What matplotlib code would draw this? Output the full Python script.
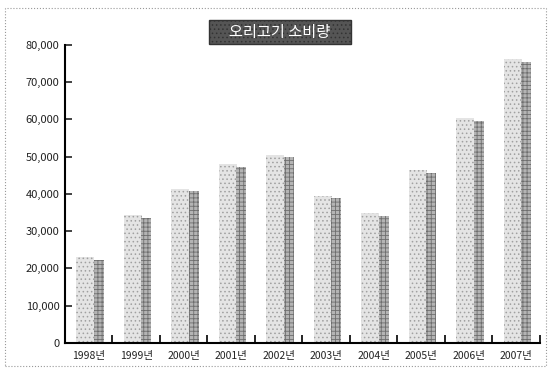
import numpy as np
import matplotlib
matplotlib.use('Agg')
import matplotlib.pyplot as plt
from matplotlib.patches import Rectangle
from matplotlib.ticker import FuncFormatter

plt.rcParams['font.family'] = ['Noto Sans CJK KR', 'DejaVu Sans']
plt.rcParams['hatch.linewidth'] = 0.6

# 데이터
years = ['1998년', '1999년', '2000년', '2001년', '2002년',
         '2003년', '2004년', '2005년', '2006년', '2007년']
consumption = [23000, 34300, 41400, 48000, 50500,
               39500, 34800, 46400, 60300, 76200]
title = '오리고기 소비량'

fig = plt.figure(figsize=(5.48, 3.68), dpi=100)
ax = fig.add_axes([0.1186, 0.068, 0.8668, 0.81])

x = np.arange(len(years))
# 앞면 (밝은 면)
ax.bar(x - 0.074, consumption, width=0.37, color='#e4e4e4',
       edgecolor='#a0a0a0', linewidth=0, hatch='....')
# 옆면 (어두운 면)
ax.bar(x + 0.21, np.array(consumption) - 700, width=0.21, color='#b4b4b4',
       edgecolor='#6e6e6e', linewidth=0, hatch='++++')

ax.set_xlim(-0.5, len(years) - 0.5)
ax.set_ylim(0, 80000)
ax.set_yticks(np.arange(0, 80001, 10000))
ax.yaxis.set_major_formatter(FuncFormatter(lambda v, p: f'{int(v):,}'))

ax.set_xticks(x)
ax.set_xticklabels(years)
ax.set_xticks(np.arange(len(years) + 1) - 0.5, minor=True)

ax.tick_params(axis='y', direction='in', length=5, width=1.2, labelsize=8,
               pad=4, colors='#222222')
ax.tick_params(axis='x', which='major', length=0, labelsize=7.5, pad=6,
               colors='#222222')
ax.tick_params(axis='x', which='minor', direction='in', length=6, width=1.2)

for s in ['top', 'right']:
    ax.spines[s].set_visible(False)
for s in ['left', 'bottom']:
    ax.spines[s].set_linewidth(1.5)

# 제목 박스
fig.text(280 / 548, 1 - 32 / 368, '     ' + title + '     ', color='white',
         fontsize=11, ha='center', va='center',
         bbox=dict(boxstyle='square,pad=0.25', facecolor='#555555',
                   edgecolor='#333333', hatch='....'))

# 점선 테두리
fig.patches.append(Rectangle((5 / 548, 2 / 368), 541 / 548, 358 / 368,
                             transform=fig.transFigure, fill=False,
                             linestyle=':', linewidth=0.8, edgecolor='#999999'))

fig.savefig('out.png', dpi=100)
